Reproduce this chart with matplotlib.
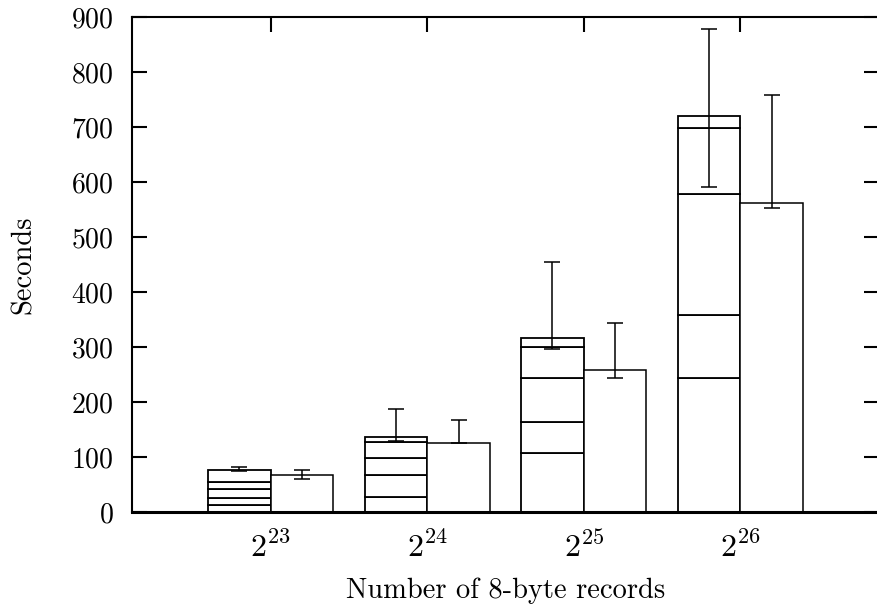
import matplotlib
matplotlib.use("Agg")
import matplotlib.pyplot as plt
import numpy as np

plt.rcParams['font.family'] = ['cmr10', 'DejaVu Serif']
plt.rcParams['mathtext.fontset'] = 'cm'
plt.rcParams['axes.formatter.use_mathtext'] = True

sizes = [r'$2^{23}$', r'$2^{24}$', r'$2^{25}$', r'$2^{26}$']

# stacked bar: time per phase
phase1 = [13, 28, 108, 244]
phase2 = [13, 39, 55, 115]
phase3 = [16, 31, 81, 220]
phase4 = [13, 29, 56, 120]
phase5 = [22, 10, 17, 21]

# single bar
other = [67, 126, 258, 562]

# min/max ranges
stack_lo = [74.5, 129, 296, 591]
stack_hi = [82, 188, 455, 879]
other_lo = [60, 126, 243, 553]
other_hi = [76, 167, 344, 759]

x = np.arange(len(sizes))
w = 0.4

fig = plt.figure(figsize=(8.77, 6.05), dpi=100)
ax = fig.add_axes([132 / 877, 93 / 605, 747 / 877, 495 / 605])

bottom = np.zeros(len(sizes))
for seg in [phase1, phase2, phase3, phase4, phase5]:
  ax.bar(x - w / 2, seg, w, bottom=bottom, facecolor='white', edgecolor='black', linewidth=1.3, zorder=2)
  bottom += np.array(seg)
ax.bar(x + w / 2, other, w, facecolor='white', edgecolor='black', linewidth=1.1, zorder=2)

def range_bars(xs, lo, hi):
  lo = np.array(lo, dtype=float)
  hi = np.array(hi, dtype=float)
  ax.errorbar(xs, (lo + hi) / 2, yerr=(hi - lo) / 2, fmt='none', ecolor='black',
              elinewidth=1.1, capsize=6, capthick=1.1, zorder=3)

range_bars(x - w / 2, stack_lo, stack_hi)
range_bars(x + w / 2, other_lo, other_hi)

ax.set_xlim(-0.885, 3.885)
ax.set_ylim(0, 900)
ax.set_yticks(np.arange(0, 901, 100))
ax.set_xticks(x)
ax.set_xticklabels(sizes)

ax.tick_params(axis='y', direction='in', length=11, width=1.5, labelsize=20, pad=13,
               left=True, right=True)
ax.tick_params(axis='x', direction='in', length=11, width=1.5, labelsize=23, pad=14,
               top=True, bottom=True)

for side in ['left', 'top', 'right']:
  ax.spines[side].set_linewidth(1.5)
ax.spines['bottom'].set_linewidth(2.2)

ax.set_xlabel('Number of 8-byte records', fontsize=20.5, labelpad=10)
ax.set_ylabel('Seconds', fontsize=20.5, labelpad=25)

fig.savefig('out.png', dpi=100)
